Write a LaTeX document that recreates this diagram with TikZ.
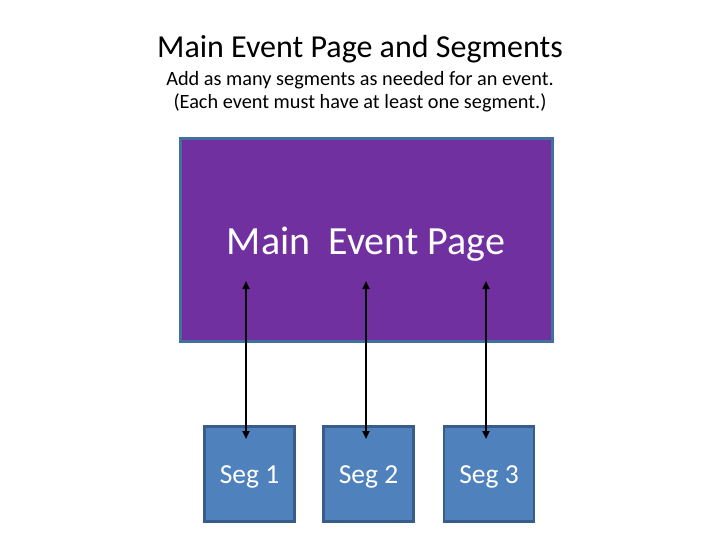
\documentclass[tikz,border=0pt]{standalone}
\usepackage{fontspec}
\setmainfont{Carlito}
\usetikzlibrary{arrows.meta,calc}
\definecolor{mainpurple}{HTML}{7030A0}
\definecolor{mainborder}{HTML}{41719C}
\definecolor{segfill}{HTML}{4F81BD}
\definecolor{segborder}{HTML}{385D8A}
\tikzset{
  mainbox/.style={draw=mainborder, fill=mainpurple, line width=2.5pt, minimum width=372pt, minimum height=203pt, inner sep=0pt},
  segbox/.style={draw=segborder, fill=segfill, line width=2.5pt, minimum width=90pt, minimum height=95pt, inner sep=0pt, text=white, font=\fontsize{27.5}{32}\selectfont},
  link/.style={{Triangle[length=8pt,width=7pt]}-{Triangle[length=8pt,width=7pt]}, line width=2pt, black},
}
\begin{document}
\begin{tikzpicture}[x=1pt,y=-1pt]
\useasboundingbox (0,0) rectangle (720,540);
\node[font=\fontsize{32}{36}\selectfont] (title) at (360,49) {Main Event Page and Segments};
\node[font=\fontsize{20.3}{23}\selectfont, align=center] (sub) at (360,92) {Add as many segments as needed for an event.\\(Each event must have at least one segment.)};
\node[mainbox] (main) at (366.5,240) {};
\node[text=white, font=\fontsize{40}{46}\selectfont] (maintext) at (366,244) {Main\ \ Event Page};
\node[segbox, text depth=0pt, text height=0pt] (s1) at (249.5,474) {\raisebox{-0.33em}{Seg 1}};
\node[segbox, text depth=0pt, text height=0pt] (s2) at (368.5,474) {\raisebox{-0.33em}{Seg 2}};
\node[segbox, text depth=0pt, text height=0pt] (s3) at (489,474) {\raisebox{-0.33em}{Seg 3}};
\coordinate (t1) at (246,281);
\coordinate (t2) at (366,281);
\coordinate (t3) at (486,281);
\coordinate (b1) at (246,439);
\coordinate (b2) at (366,439);
\coordinate (b3) at (486,439);
\draw[link] (t1) -- (b1);
\draw[link] (t2) -- (b2);
\draw[link] (t3) -- (b3);
\end{tikzpicture}
\end{document}
